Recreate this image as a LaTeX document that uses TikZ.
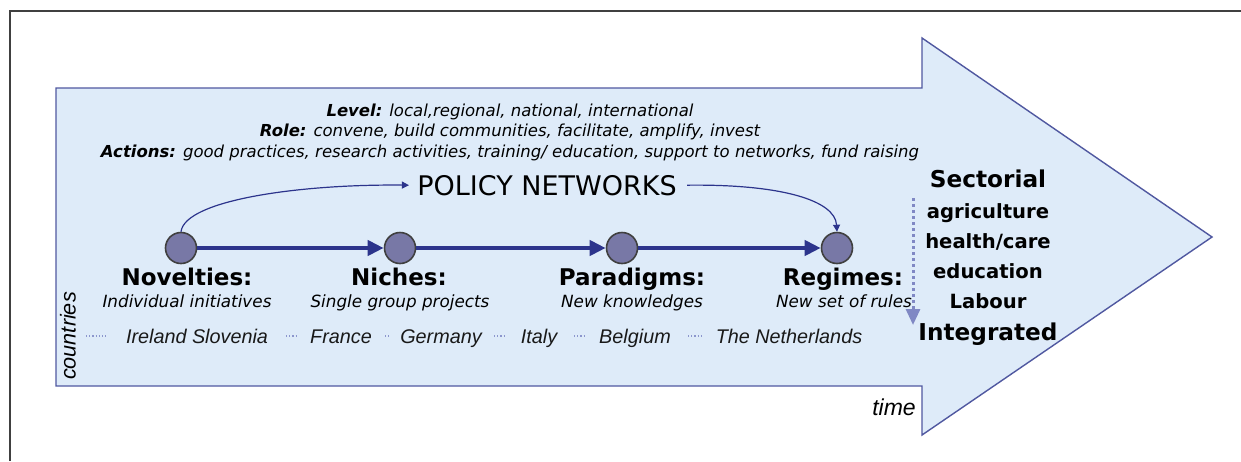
\documentclass[tikz,border=0pt]{standalone}
\usepackage{fontspec}
\setmainfont{DejaVu Sans}[BoldFont={DejaVu Sans Bold},ItalicFont={DejaVu Sans Oblique},BoldItalicFont={DejaVu Sans Bold Oblique}]
\newfontfamily\arialf{Liberation Sans}
\usetikzlibrary{arrows.meta}
\definecolor{arrfill}{RGB}{222,235,249}
\definecolor{arredge}{RGB}{80,88,160}
\definecolor{navy}{RGB}{44,52,140}
\definecolor{circfill}{RGB}{120,120,166}
\definecolor{dotblue}{RGB}{128,136,196}
\definecolor{dashblue}{RGB}{140,150,205}
\tikzset{
  stage/.style={circle, minimum size=15.5pt, inner sep=0pt, fill=circfill, draw=black!75, line width=0.8pt},
  flow/.style={line width=2pt, navy, -{Triangle[length=8pt,width=7.5pt]}},
  netlink/.style={line width=0.6pt, navy, -{Triangle[length=3.5pt,width=3.5pt]}},
  head/.style={font=\fontsize{8.25}{10}\selectfont\itshape, inner sep=0pt, anchor=base},
  lab/.style={font=\fontsize{11.5}{13}\selectfont\bfseries, inner sep=0pt, anchor=base},
  sublab/.style={font=\fontsize{8.4}{10}\selectfont\itshape, inner sep=0pt, anchor=base},
  ctry/.style={font=\arialf\itshape\fontsize{9.9}{12}\selectfont, inner sep=0pt, text=black!90, anchor=base},
  ctrydash/.style={densely dotted, line width=0.6pt, dashblue},
  sect/.style={font=\fontsize{9.8}{12}\selectfont\bfseries, inner sep=0pt, anchor=base},
  sectbig/.style={font=\fontsize{11.6}{13}\selectfont\bfseries, inner sep=0pt, anchor=base},
  vdots/.style={line width=1.5pt, dotblue, dash pattern=on 1.5pt off 1.5pt, -{Triangle[length=8pt,width=7pt]}}
}
\begin{document}
\begin{tikzpicture}[x=0.5pt,y=-0.5pt]
\useasboundingbox (0,0) rectangle (1241,461);
% frame
\draw[line width=1pt, black!75] (10,461) -- (10,11) -- (1241,11);
% big arrow
\draw[fill=arrfill, draw=arredge, line width=0.7pt]
  (56,88) -- (922,88) -- (922,38) -- (1212,237) -- (922,435) -- (922,386) -- (56,386) -- cycle;
% header text
\node[head] (h1) at (510,116) {{\bfseries Level:} local,regional, national, international};
\node[head] (h2) at (510,136) {{\bfseries Role:} convene, build communities, facilitate, amplify, invest};
\node[head] (h3) at (510,157) {{\bfseries Actions:} good practices, research activities, training/ education, support to networks, fund raising};
% policy networks
\node[inner sep=0pt, anchor=base, font=\fontsize{13.5}{16}\selectfont] (pn) at (547,195) {POLICY NETWORKS};
% stages
\node[stage] (nov) at (181,248) {};
\node[stage] (nic) at (400,248) {};
\node[stage] (par) at (622,248) {};
\node[stage] (reg) at (837,248) {};
\draw[flow] (nov) -- (nic);
\draw[flow] (nic) -- (par);
\draw[flow] (par) -- (reg);
\draw[netlink] (nov.north) .. controls (185,200) and (300,184) .. ([xshift=-4pt]pn.west);
\draw[netlink] ([xshift=5pt]pn.east) .. controls (780,184) and (835,200) .. (reg.north);
% labels
\node[lab] (novl) at (187,285) {Novelties:};
\node[sublab] (novs) at (187,307) {Individual initiatives};
\node[lab] (nicl) at (399,285) {Niches:};
\node[sublab] (nics) at (400,307) {Single group projects};
\node[lab] (parl) at (632,285) {Paradigms:};
\node[sublab] (pars) at (632,307) {New knowledges};
\node[lab] (regl) at (843,285) {Regimes:};
\node[sublab] (regs) at (844,307) {New set of rules};
% countries
\node[ctry] (c1) at (197,343) {Ireland Slovenia};
\node[ctry] (c2) at (341,343) {France};
\node[ctry] (c3) at (441,343) {Germany};
\node[ctry] (c4) at (539,343) {Italy};
\node[ctry] (c5) at (635,343) {Belgium};
\node[ctry] (c6) at (789,343) {The Netherlands};
\draw[ctrydash] (86,336) -- (107,336);
\draw[ctrydash] (286,336) -- (296,336);
\draw[ctrydash] (385,336) -- (389,336);
\draw[ctrydash] (494,336) -- (504,336);
\draw[ctrydash] (574,336) -- (586,336);
\draw[ctrydash] (688,336) -- (703,336);
\node[font=\arialf\itshape\fontsize{10.8}{12}\selectfont, inner sep=0pt, rotate=90] (cty) at (68,336) {countries};
\node[font=\arialf\itshape\fontsize{11.5}{13}\selectfont, inner sep=0pt, anchor=base] (time) at (894,415) {time};
% sectors
\node[sectbig] (s0) at (988,187) {Sectorial};
\node[sect] (s1) at (988,218) {agriculture};
\node[sect] (s2) at (988,248) {health/care};
\node[sect] (s3) at (988,278) {education};
\node[sect] (s4) at (988,308) {Labour};
\node[sectbig] (s5) at (988,340) {Integrated};
\coordinate (vtop) at (913,198);
\coordinate (vbot) at (913,325);
\draw[vdots] (vtop) -- (vbot);
\end{tikzpicture}
\end{document}
